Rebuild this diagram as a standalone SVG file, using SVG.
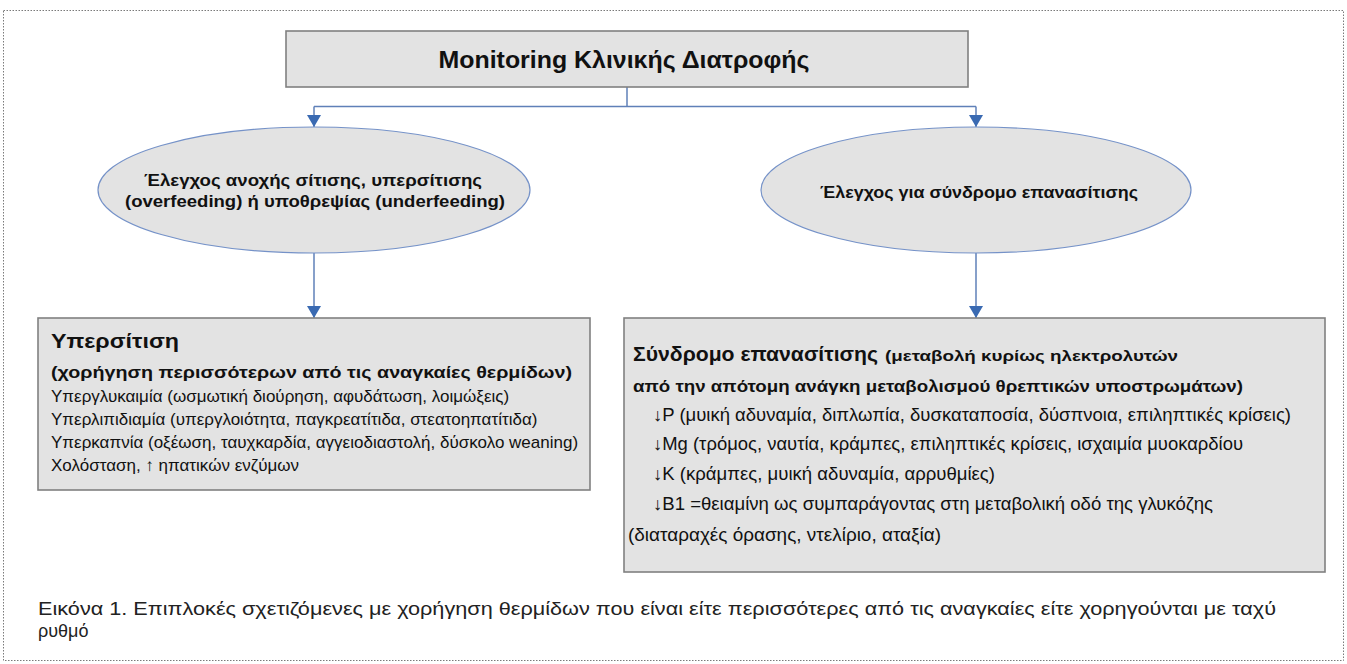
<svg xmlns="http://www.w3.org/2000/svg" width="1347" height="664" viewBox="0 0 1347 664">
<defs>
<marker id="arr" markerUnits="userSpaceOnUse" markerWidth="13" markerHeight="14" refX="12" refY="7" orient="auto" viewBox="0 0 13 14">
<path d="M0,0 L12,7 L0,14 Z" fill="#3A6AB2"/>
</marker>
</defs>
<style>
.frame{fill:#fff;stroke:#7a7a7a;stroke-width:1;stroke-dasharray:1.5 1.5}
.box{fill:#e3e3e3;stroke:#808080;stroke-width:1.6}
.ell{fill:#e3e3e3;stroke:#7592c8;stroke-width:1.2}
.con{fill:none;stroke:#5f80b8;stroke-width:1.5}
text{font-family:"Liberation Sans",Arial,sans-serif;fill:#111}
.t{font-size:24px;font-weight:bold}
.e{font-size:16px;font-weight:bold}
.h{font-size:20px;font-weight:bold}
.s{font-size:17px;font-weight:bold}
.s2{font-size:15px;font-weight:bold}
.r{font-size:17px}
.r2{font-size:18px}
.c{font-size:18px;fill:#222}
</style>
<rect class="frame" x="3.5" y="10.5" width="1340" height="650"/>
<g id="connectors">
<polyline class="con" points="627,87 627,106.5"/>
<polyline class="con" points="314,106.5 976,106.5"/>
<line class="con" x1="314" y1="106.5" x2="314" y2="127" marker-end="url(#arr)"/>
<line class="con" x1="976" y1="106.5" x2="976" y2="127" marker-end="url(#arr)"/>
<line class="con" x1="314" y1="253" x2="314" y2="318" marker-end="url(#arr)"/>
<line class="con" x1="976" y1="253" x2="976" y2="318" marker-end="url(#arr)"/>
</g>
<g id="title">
<rect class="box" x="286" y="31" width="682" height="56"/>
<text class="t" x="624" y="68" text-anchor="middle" textLength="371" lengthAdjust="spacingAndGlyphs">Monitoring Κλινικής Διατροφής</text>
</g>
<g id="ellipse-left">
<ellipse class="ell" cx="314" cy="190" rx="216" ry="63"/>
<text class="e" x="313" y="186" text-anchor="middle" textLength="338" lengthAdjust="spacingAndGlyphs">Έλεγχος ανοχής σίτισης, υπερσίτισης</text>
<text class="e" x="315" y="207" text-anchor="middle" textLength="380" lengthAdjust="spacingAndGlyphs">(overfeeding) ή υποθρεψίας (underfeeding)</text>
</g>
<g id="ellipse-right">
<ellipse class="ell" cx="976" cy="190" rx="215" ry="63"/>
<text class="e" x="979" y="198" text-anchor="middle" textLength="318" lengthAdjust="spacingAndGlyphs">Έλεγχος για σύνδρομο επανασίτισης</text>
</g>
<g id="box-left">
<rect class="box" x="38" y="318" width="552" height="172"/>
<text class="h" x="51" y="348" textLength="128" lengthAdjust="spacingAndGlyphs">Υπερσίτιση</text>
<text class="s" x="51" y="378" textLength="521" lengthAdjust="spacingAndGlyphs">(χορήγηση περισσότερων από τις αναγκαίες θερμίδων)</text>
<text class="r" x="51" y="402">Υπεργλυκαιμία (ωσμωτική διούρηση, αφυδάτωση, λοιμώξεις)</text>
<text class="r" x="51" y="425">Υπερλιπιδιαμία (υπεργλοιότητα, παγκρεατίτιδα, στεατοηπατίτιδα)</text>
<text class="r" x="51" y="448">Υπερκαπνία (οξέωση, ταυχκαρδία, αγγειοδιαστολή, δύσκολο weaning)</text>
<text class="r" x="51" y="471">Χολόσταση, ↑ ηπατικών ενζύμων</text>
</g>
<g id="box-right">
<rect class="box" x="624" y="318" width="701" height="254"/>
<text class="h" x="633" y="361" textLength="245" lengthAdjust="spacingAndGlyphs">Σύνδρομο επανασίτισης</text>
<text class="s2" x="885" y="361" textLength="293" lengthAdjust="spacingAndGlyphs">(μεταβολή κυρίως ηλεκτρολυτών</text>
<text class="s" x="633" y="392" textLength="610" lengthAdjust="spacingAndGlyphs">από την απότομη ανάγκη μεταβολισμού θρεπτικών υποστρωμάτων)</text>
<text class="r2" x="653" y="421" textLength="638" lengthAdjust="spacingAndGlyphs">↓P (μυική αδυναμία, διπλωπία, δυσκαταποσία, δύσπνοια, επιληπτικές κρίσεις)</text>
<text class="r2" x="653" y="450" textLength="590" lengthAdjust="spacingAndGlyphs">↓Mg (τρόμος, ναυτία, κράμπες, επιληπτικές κρίσεις, ισχαιμία μυοκαρδίου</text>
<text class="r2" x="653" y="480" textLength="342" lengthAdjust="spacingAndGlyphs">↓K (κράμπες, μυική αδυναμία, αρρυθμίες)</text>
<text class="r2" x="653" y="510" textLength="560" lengthAdjust="spacingAndGlyphs">↓B1 =θειαμίνη ως συμπαράγοντας στη μεταβολική οδό της γλυκόζης</text>
<text class="r2" x="628" y="541" textLength="313" lengthAdjust="spacingAndGlyphs">(διαταραχές όρασης, ντελίριο, αταξία)</text>
</g>
<g id="caption">
<text class="c" x="38" y="615" textLength="1238" lengthAdjust="spacingAndGlyphs">Εικόνα 1. Επιπλοκές σχετιζόμενες με χορήγηση θερμίδων που είναι είτε περισσότερες από τις αναγκαίες είτε χορηγούνται με ταχύ</text>
<text class="c" x="38" y="637">ρυθμό</text>
</g>
</svg>
